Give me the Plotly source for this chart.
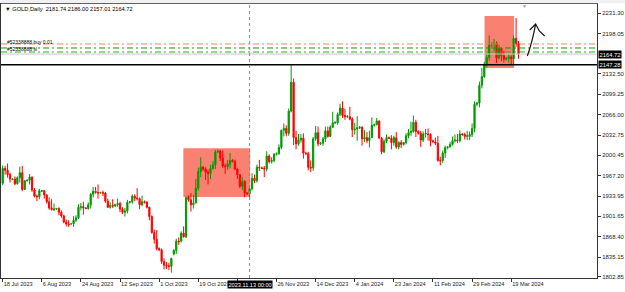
import plotly.graph_objects as go

# ---------------- data (GOLD daily bars, Jul 18 2023 .. Mar 22 2024) ----------------
opens = [
    1955, 1979, 1976, 1969,
    1961, 1962, 1954, 1964, 1972, 1945,
    1959, 1960, 1965, 1944, 1934, 1933,
    1942, 1943, 1936, 1925, 1915, 1912,
    1913, 1914, 1908, 1902, 1892, 1889,
    1889, 1889, 1895, 1899, 1916, 1917,
    1915, 1914, 1920, 1937, 1942, 1940,
    1939, 1940, 1939, 1926, 1916, 1919,
    1918, 1920, 1922, 1913, 1908, 1910,
    1924, 1925, 1934, 1931, 1930, 1920,
    1925, 1924, 1916, 1901, 1875, 1864,
    1849, 1847, 1828, 1822, 1821, 1820,
    1840, 1846, 1861, 1861, 1874, 1868,
    1933, 1928, 1920, 1923, 1947, 1974,
    1981, 1978, 1973, 1971, 1979, 1985,
    2006, 2007, 1996, 1983, 1982, 1986,
    1992, 1990, 1978, 1969, 1950, 1958,
    1939, 1938, 1946, 1963, 1959, 1981,
    1980, 1979, 1978, 1999, 1990, 1992,
    2002, 2003, 2013, 2041, 2044, 2036,
    2072, 2119, 2029, 2019, 2025, 2028,
    2004, 2003, 1981, 1980, 2027, 2037,
    2019, 2020, 2027, 2040, 2031, 2046,
    2053, 2053, 2067, 2077, 2065,
    2063, 2063, 2059, 2042, 2043,
    2045, 2046, 2027, 2029, 2024, 2029,
    2049, 2050, 2056, 2028, 2006, 2023,
    2029, 2028, 2021, 2029, 2014, 2021,
    2018, 2021, 2032, 2037, 2039, 2054,
    2039, 2036, 2025, 2035, 2035, 2034,
    2024, 2022, 2020, 1992, 1992, 2004,
    2013, 2014, 2018, 2024, 2025, 2024,
    2035, 2034, 2031, 2031, 2034, 2044,
    2083, 2085, 2114, 2128, 2148, 2159,
    2179, 2180, 2182, 2158, 2174, 2162,
    2156, 2158, 2160, 2157, 2190, 2181.74,
]
highs = [
    1984, 1983, 1987, 1972,
    1963, 1966, 1966, 1982, 1983, 1960,
    1961, 1970, 1966, 1947, 1937, 1946,
    1944, 1944, 1937, 1932, 1929, 1922,
    1915, 1916, 1911, 1904, 1896, 1895,
    1890, 1902, 1903, 1921, 1923, 1925,
    1916, 1924, 1939, 1949, 1949, 1953,
    1941, 1943, 1941, 1930, 1924, 1929,
    1922, 1930, 1925, 1916, 1915, 1928,
    1926, 1937, 1937, 1947, 1932, 1935,
    1927, 1926, 1917, 1903, 1880, 1879,
    1851, 1849, 1833, 1827, 1826, 1834,
    1848, 1865, 1867, 1877, 1885, 1933,
    1935, 1939, 1936, 1962, 1980, 1997,
    1983, 1981, 1977, 1985, 1991, 2009,
    2010, 2009, 2008, 1987, 1993, 2004,
    1994, 1993, 1980, 1970, 1965, 1960,
    1941, 1947, 1971, 1969, 1985, 1993,
    1982, 1983, 2007, 2002, 1997, 2004,
    2005, 2018, 2042, 2052, 2049, 2076,
    2147, 2125, 2040, 2035, 2035, 2036,
    2006, 2006, 1992, 2030, 2048, 2047,
    2022, 2030, 2047, 2047, 2049, 2071,
    2055, 2070, 2084, 2088, 2076,
    2065, 2079, 2062, 2053, 2064,
    2048, 2047, 2041, 2038, 2040, 2062,
    2052, 2061, 2057, 2030, 2026, 2034,
    2031, 2033, 2032, 2038, 2023, 2025,
    2022, 2036, 2043, 2055, 2065, 2058,
    2041, 2040, 2039, 2043, 2044, 2036,
    2026, 2029, 2032, 1998, 2008, 2016,
    2015, 2022, 2031, 2034, 2035, 2041,
    2036, 2037, 2040, 2039, 2052, 2088,
    2087, 2120, 2142, 2152, 2165, 2195,
    2184, 2189, 2185, 2180, 2175, 2170,
    2160, 2164, 2163, 2195, 2223, 2186.00,
]
lows = [
    1952, 1969, 1964, 1956,
    1960, 1952, 1953, 1956, 1942, 1944,
    1958, 1953, 1941, 1932, 1926, 1929,
    1941, 1930, 1922, 1912, 1911, 1910,
    1912, 1903, 1899, 1890, 1885, 1884,
    1888, 1884, 1892, 1897, 1911, 1904,
    1913, 1912, 1914, 1932, 1938, 1930,
    1938, 1934, 1923, 1915, 1914, 1915,
    1917, 1917, 1908, 1905, 1901, 1906,
    1922, 1922, 1926, 1927, 1913, 1918,
    1922, 1914, 1895, 1873, 1857, 1846,
    1845, 1824, 1815, 1816, 1814, 1810,
    1838, 1840, 1855, 1859, 1867, 1866,
    1925, 1909, 1914, 1922, 1943, 1965,
    1975, 1960, 1953, 1962, 1977, 1978,
    2004, 1991, 1980, 1970, 1977, 1979,
    1989, 1976, 1962, 1947, 1944, 1932,
    1936, 1931, 1943, 1955, 1956, 1975,
    1978, 1965, 1974, 1987, 1987, 1989,
    2000, 2001, 2010, 2031, 2031, 2032,
    2070, 2017, 2010, 2016, 2021, 1995,
    2001, 1976, 1973, 1975, 2024, 2015,
    2017, 2016, 2022, 2029, 2030, 2045,
    2051, 2050, 2064, 2061, 2058,
    2061, 2057, 2030, 2034, 2024,
    2043, 2016, 2022, 2020, 2013, 2029,
    2047, 2049, 2028, 2002, 2004, 2020,
    2027, 2010, 2016, 2011, 2010, 2012,
    2016, 2018, 2028, 2032, 2037, 2030,
    2034, 2014, 2022, 2029, 2024, 2015,
    2021, 2017, 1990, 1984, 1988, 1996,
    2010, 2013, 2016, 2021, 2020, 2021,
    2032, 2026, 2025, 2025, 2030, 2038,
    2080, 2078, 2109, 2126, 2143, 2154,
    2176, 2169, 2150, 2156, 2153, 2151,
    2154, 2151, 2146, 2147, 2176, 2157.01,
]
closes = [
    1979, 1976, 1969, 1962,
    1962, 1954, 1964, 1972, 1945, 1959,
    1960, 1965, 1944, 1934, 1933, 1943,
    1943, 1936, 1925, 1915, 1912, 1913,
    1914, 1908, 1902, 1892, 1889, 1888,
    1889, 1895, 1899, 1916, 1917, 1915,
    1914, 1920, 1937, 1942, 1940, 1939,
    1940, 1939, 1926, 1916, 1919, 1918,
    1920, 1922, 1913, 1908, 1910, 1924,
    1925, 1934, 1931, 1930, 1920, 1925,
    1924, 1916, 1901, 1875, 1864, 1849,
    1847, 1828, 1822, 1821, 1820, 1833,
    1846, 1861, 1860, 1874, 1868, 1932,
    1928, 1920, 1923, 1947, 1974, 1981,
    1978, 1973, 1971, 1979, 1985, 2006,
    2007, 1996, 1983, 1982, 1986, 1992,
    1990, 1978, 1969, 1950, 1958, 1939,
    1938, 1946, 1963, 1959, 1981, 1980,
    1979, 1978, 1999, 1990, 1992, 2002,
    2003, 2013, 2041, 2044, 2036, 2072,
    2119, 2029, 2019, 2025, 2028, 2004,
    2003, 1981, 1980, 2027, 2037, 2019,
    2020, 2027, 2040, 2031, 2046, 2053,
    2054, 2067, 2077, 2065, 2063,
    2064, 2059, 2042, 2043, 2045,
    2046, 2027, 2029, 2024, 2029, 2049,
    2050, 2056, 2028, 2006, 2023, 2029,
    2028, 2021, 2029, 2014, 2021, 2018,
    2021, 2032, 2037, 2039, 2054, 2039,
    2036, 2025, 2035, 2036, 2034, 2024,
    2022, 2020, 1992, 1991, 2004, 2013,
    2014, 2018, 2024, 2025, 2024, 2035,
    2034, 2031, 2032, 2034, 2044, 2083,
    2085, 2114, 2128, 2148, 2159, 2179,
    2180, 2182, 2158, 2174, 2162, 2156,
    2158, 2160, 2157, 2190, 2181, 2164.72,
]

x_tick_bars = [0, 16, 32, 48, 64, 80, 96, 112, 128, 144, 160, 176, 192, 208]
x_tick_labels = ["18 Jul 2023", "6 Aug 2023", "24 Aug 2023", "12 Sep 2023", "1 Oct 2023",
                 "19 Oct 2023", "", "26 Nov 2023", "14 Dec 2023", "4 Jan 2024",
                 "23 Jan 2024", "11 Feb 2024", "29 Feb 2024", "19 Mar 2024"]
y_tick_values = [2231.30, 2198.05, 2132.50, 2099.25, 2066.00, 2032.75, 2000.45,
                 1967.20, 1933.95, 1901.65, 1868.40, 1835.15, 1802.85]

bid_price = 2164.72
level_price = 2147.28
order_levels = [2181.0, 2174.5, 2168.0]
order_colors = ["#ff7f50", "#00a000", "#22b422"]
order_texts = ["#52338888 buy 0.01", "#52338888 sl"]
order_text_prices = [2183.5, 2173.5]
cursor_bar = 101
cursor_label = "2023.11.13 00:00"
header = "\u25BC GOLD,Daily  2181.74 2186.00 2157.01 2164.72"

# drawing objects (bar index / price)
zones = [(73.9, 101.2, 1932.7, 2011.7), (197.1, 209.2, 2142.0, 2226.4)]

FONT = "Liberation Sans"
bars = list(range(len(closes)))

fig = go.Figure(go.Candlestick(
    x=bars, open=opens, high=highs, low=lows, close=closes,
    increasing=dict(line=dict(color="#009a00", width=1), fillcolor="#009a00"),
    decreasing=dict(line=dict(color="#ff0000", width=1), fillcolor="#ff0000"),
    whiskerwidth=0, hoverinfo="skip", showlegend=False,
))

shapes = []
for x0, x1, y0, y1 in zones:
    shapes.append(dict(type="rect", xref="x", yref="y", x0=x0, x1=x1, y0=y0, y1=y1,
                       fillcolor="#fa8072", line=dict(width=0), layer="below"))
for p, c in zip(order_levels, order_colors):
    shapes.append(dict(type="line", xref="paper", yref="y", x0=0, x1=1, y0=p, y1=p,
                       line=dict(color=c, width=1, dash="6px,3px,2px,3px")))
shapes.append(dict(type="line", xref="paper", yref="y", x0=0, x1=1, y0=bid_price, y1=bid_price,
                   line=dict(color="#c8c8c8", width=1)))
shapes.append(dict(type="line", xref="paper", yref="y", x0=0, x1=1, y0=level_price, y1=level_price,
                   line=dict(color="#000000", width=1.6)))
shapes.append(dict(type="line", xref="x", yref="paper", x0=cursor_bar, x1=cursor_bar, y0=0, y1=1,
                   line=dict(color="#888888", width=1, dash="dot")))
# hand-drawn arrow
shapes.append(dict(type="path", xref="x", yref="y",
                   path="M 214.6,2161.5 Q 216.6,2184.2 218.0,2213.4 "
                        "M 215.6,2203.7 L 218.0,2213.4 L 219.5,2202.1 L 221.7,2194.0",
                   line=dict(color="#111111", width=1.2)))
# top strip
shapes.append(dict(type="rect", xref="paper", yref="paper", x0=0, x1=1.05, y0=1.003, y1=1.02,
                   fillcolor="#f0f0f0", line=dict(width=0)))

annotations = [
    dict(xref="paper", yref="paper", x=0.004, y=0.982, text=header, showarrow=False,
         xanchor="left", yanchor="middle", font=dict(family=FONT, size=5.7, color="#000")),
    dict(xref="paper", yref="paper", x=0.878, y=0.993, text="\u25BC", showarrow=False,
         xanchor="center", yanchor="middle", font=dict(family=FONT, size=5, color="#999")),
    dict(xref="x", yref="paper", x=cursor_bar, y=-0.022, text=cursor_label, showarrow=False,
         xanchor="center", yanchor="middle", bgcolor="#000", borderpad=0.5,
         font=dict(family=FONT, size=5.6, color="#fff")),
    dict(xref="paper", yref="y", x=1.002, y=bid_price, text=f"{bid_price:.2f}", showarrow=False,
         xanchor="left", yanchor="middle", bgcolor="#000", borderpad=0.5,
         font=dict(family=FONT, size=5.8, color="#fff")),
    dict(xref="paper", yref="y", x=1.002, y=level_price, text=f"{level_price:.2f}", showarrow=False,
         xanchor="left", yanchor="middle", bgcolor="#000", borderpad=0.5,
         font=dict(family=FONT, size=5.8, color="#fff")),
]
for p, t in zip(order_text_prices, order_texts):
    annotations.append(dict(xref="paper", yref="y", x=0.008, y=p, text=t, showarrow=False,
                            xanchor="left", yanchor="middle", borderpad=0,
                            font=dict(family=FONT, size=5, color="#000")))

fig.update_layout(
    width=625, height=292, margin=dict(l=0, r=26, t=4, b=14),
    paper_bgcolor="#ffffff", plot_bgcolor="#ffffff",
    shapes=shapes, annotations=annotations, showlegend=False,
    xaxis=dict(range=[-0.69, 243.1], rangeslider=dict(visible=False), showgrid=False, zeroline=False,
               tickvals=x_tick_bars, ticktext=x_tick_labels, ticks="outside", ticklen=3,
               tickcolor="#333", ticklabelposition="outside right", tickangle=0,
               tickfont=dict(family=FONT, size=5.6, color="#222"),
               showline=True, linecolor="#333", linewidth=1, mirror=True),
    yaxis=dict(range=[1801.2, 2245.9], side="right", showgrid=False, zeroline=False,
               tickvals=y_tick_values, ticktext=[f"{v:.2f}" for v in y_tick_values],
               ticks="outside", ticklen=3, tickcolor="#333",
               tickfont=dict(family=FONT, size=6, color="#222"),
               showline=True, linecolor="#333", linewidth=1, mirror=True),
)

fig.write_html("out.html")
